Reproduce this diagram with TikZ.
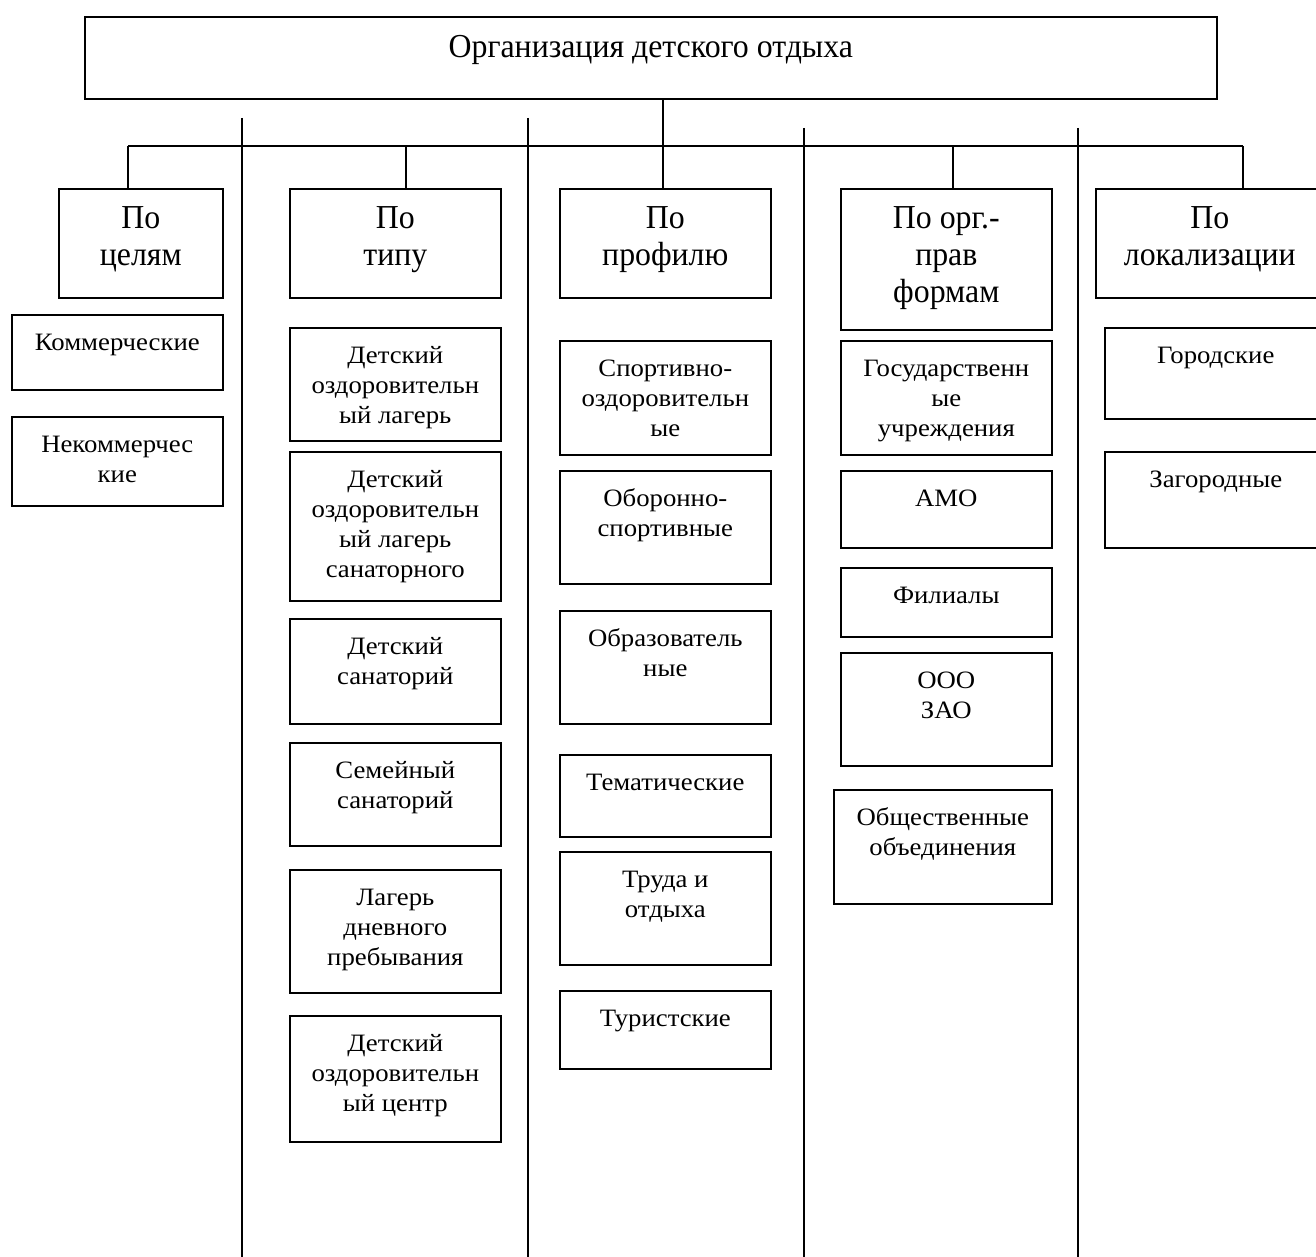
\documentclass[tikz,border=0pt]{standalone}
\usepackage{fontspec}
\setmainfont{Liberation Serif}
\newfontfamily\itemfont[FakeStretch=1.07]{Liberation Serif}
\newfontfamily\headfont[FakeStretch=0.95]{Liberation Serif}
\usepackage{tikz}

% box text: width, height, first baseline, lines
\newcommand{\celltext}[4]{\parbox[c][#2][t]{#1}{\centering\rule{0pt}{#3}#4\par}}

\tikzset{
  cell/.style={draw, line width=1.6pt, inner sep=0pt, anchor=north west, font=\itemfont\fontsize{25}{30}\selectfont},
  head/.style={cell, font=\headfont\fontsize{33.5}{37}\selectfont},
  link/.style={line width=1.5pt},
  divider/.style={line width=1.4pt}
}

\begin{document}
\begin{tikzpicture}[x=1pt,y=-1pt]
\clip (0,0) rectangle (1316,1257);

\node[head] (top) at (84,16) {\celltext{1132pt}{82pt}{41pt}{Организация детского отдыха}};

% headers
\foreach \name/\xa/\w/\h/\txt in {hA/58/164/109/{По\\целям}, hB/289/211/109/{По\\типу},
    hC/559/211/109/{По\\профилю}, hD/840/211/141/{По орг.-\\прав\\формам},
    hE/1095/228/109/{По\\локализации}}{
  \node[head] (\name) at (\xa,188) {\celltext{\w pt}{\h pt}{40pt}{\txt}};
}

% items
\foreach \name/\xa/\ya/\w/\h/\txt in {
    a1/11/314/211/75/{Коммерческие}, a2/11/416/211/89/{Некоммерчес\\кие},
    b1/289/327/211/113/{Детский\\оздоровительн\\ый лагерь},
    b2/289/451/211/149/{Детский\\оздоровительн\\ый лагерь\\санаторного},
    b3/289/618/211/105/{Детский\\санаторий}, b4/289/742/211/103/{Семейный\\санаторий},
    b5/289/869/211/123/{Лагерь\\дневного\\пребывания},
    b6/289/1015/211/126/{Детский\\оздоровительн\\ый центр},
    c1/559/340/211/114/{Спортивно-\\оздоровительн\\ые}, c2/559/470/211/113/{Оборонно-\\спортивные},
    c3/559/610/211/113/{Образователь\\ные}, c4/559/754/211/82/{Тематические},
    c5/559/851/211/113/{Труда и\\отдыха}, c6/559/990/211/78/{Туристские},
    d1/840/340/211/114/{Государственн\\ые\\учреждения}, d2/840/470/211/77/{АМО},
    d3/840/567/211/69/{Филиалы}, d4/840/652/211/113/{ООО\\ЗАО},
    d5/833/789/218/114/{Общественные\\объединения},
    e1/1104/327/222/91/{Городские}, e2/1104/451/222/96/{Загородные}}{
  \node[cell] (\name) at (\xa,\ya) {\celltext{\w pt}{\h pt}{36pt}{\txt}};
}

% tree
\coordinate (bus) at (663,146);
\coordinate (dA) at (128,146);
\coordinate (dB) at (406,146);
\coordinate (dD) at (953,146);
\coordinate (dE) at (1243,146);
\draw[link] (top.south -| bus) -- (hC.north -| bus);
\draw[link] (dA) -- (dE);
\foreach \c in {A,B,D,E}{
  \draw[link] (d\c) -- (d\c |- h\c.north);
}

% column lines
\foreach \x/\y in {242/118, 528/118, 804/128, 1078/128}{
  \draw[divider] (\x,\y) -- (\x,1257);
}
\end{tikzpicture}
\end{document}
